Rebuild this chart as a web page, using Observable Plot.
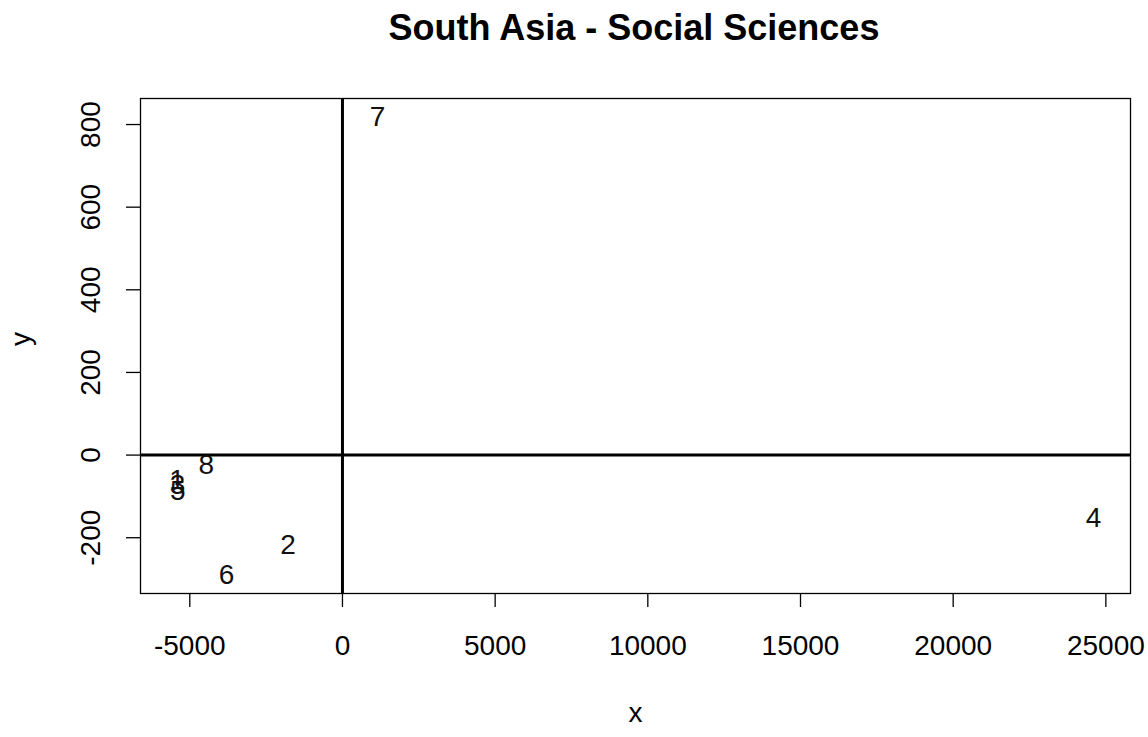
<!DOCTYPE html>
<html>
<head>
<meta charset="utf-8">
<script src="https://cdn.jsdelivr.net/npm/d3@7"></script>
<script src="https://cdn.jsdelivr.net/npm/@observablehq/plot@0.6"></script>
<style>
  html, body { margin: 0; padding: 0; background: #fff; }
  body { width: 1148px; height: 737px; overflow: hidden; font-family: "Liberation Sans", Arial, sans-serif; }
  #title { height: 60px; width: 1148px; position: relative; }
  #title span { position: absolute; left: 634px; top: 10px; line-height: 36px; transform: translateX(-50%); font-weight: bold; font-size: 36px; white-space: nowrap; color: #000; }
  svg { display: block; }
</style>
</head>
<body>
<div id="title"><span>South Asia - Social Sciences</span></div>
<div id="chart"></div>
<script>
const labels = ["1", "2", "3", "4", "5", "6", "7", "8"];
const xValues = [-5420, -1780, -5400, 24600, -5390, -3800, 1150, -4460];
const yValues = [-60, -218, -73, -153, -88, -291, 819, -24];
const xTicks = [-5000, 0, 5000, 10000, 15000, 20000, 25000];
const yTicks = [-200, 0, 200, 400, 600, 800];

const points = labels.map((l, i) => ({label: l, x: xValues[i], y: yValues[i]}));

const chart = Plot.plot({
  width: 1148,
  height: 677,
  marginTop: 38,
  marginBottom: 144,
  marginLeft: 140,
  marginRight: 18,
  style: {fontFamily: "Liberation Sans, Arial, sans-serif", background: "#fff", color: "#000"},
  x: {domain: [-6614, 25807]},
  y: {domain: [-335, 863]},
  marks: [
    Plot.frame({stroke: "#000", strokeWidth: 1.3}),
    Plot.ruleX([0], {stroke: "#000", strokeWidth: 3}),
    Plot.ruleY([0], {stroke: "#000", strokeWidth: 3}),
    Plot.axisX({ticks: xTicks, tickSize: 14, tickPadding: 28, fontSize: 28, stroke: "#000", strokeWidth: 1.3, label: null, tickFormat: d => String(d)}),
    Plot.axisY({ticks: yTicks, tickSize: 14, tickPadding: 27, fontSize: 28, stroke: "#000", strokeWidth: 1.3, label: null, tickRotate: -90, tickFormat: d => String(d)}),
    Plot.text(["x"], {frameAnchor: "bottom", dy: 128, fontSize: 28, text: d => d}),
    Plot.text(["y"], {frameAnchor: "left", dx: -119, rotate: -90, fontSize: 28, text: d => d}),
    Plot.text(points, {x: "x", y: "y", text: "label", fontSize: 28, fill: "#111"})
  ]
});
document.getElementById("chart").appendChild(chart);
</script>
</body>
</html>
